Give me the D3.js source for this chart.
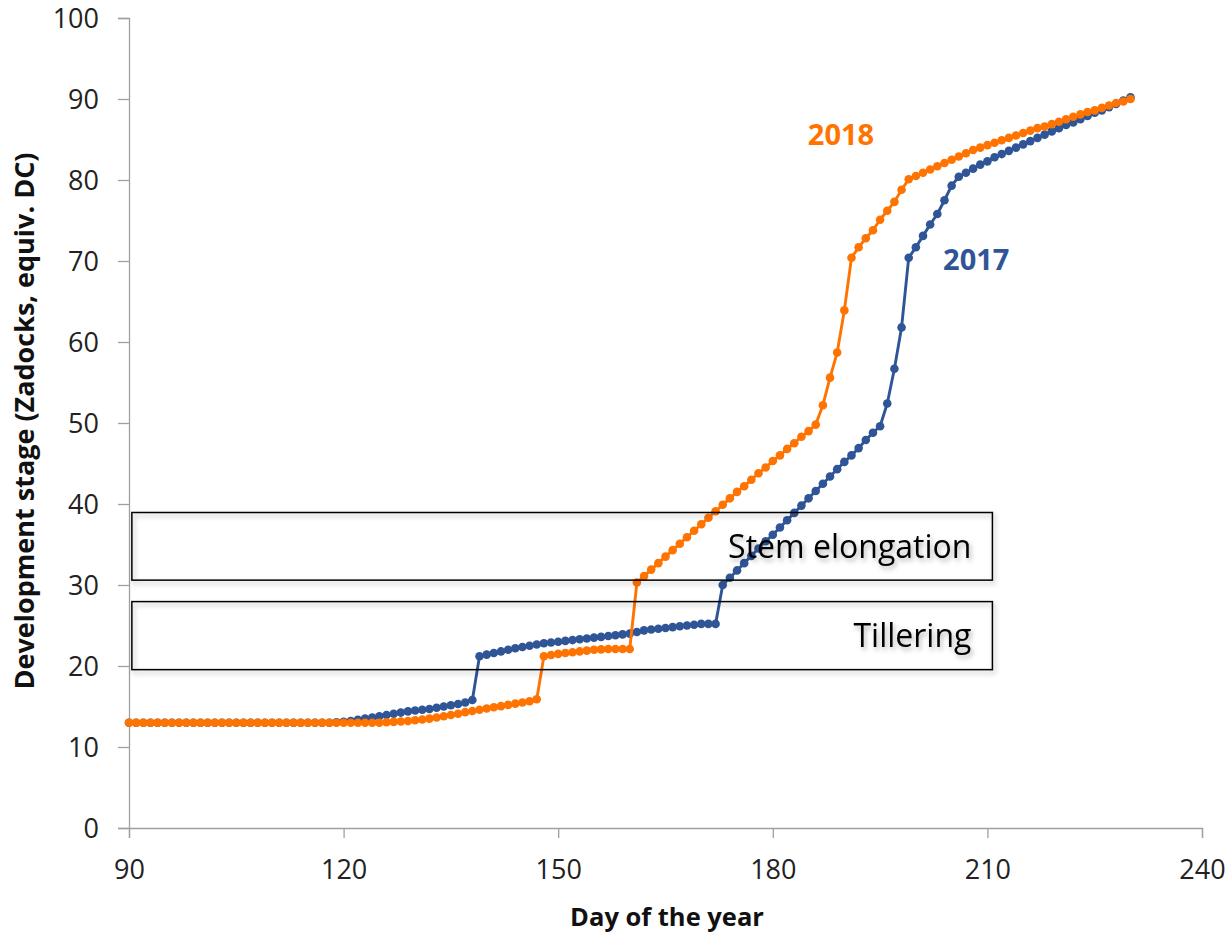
<!DOCTYPE html>
<html>
<head>
<meta charset="utf-8">
<script src="https://cdn.jsdelivr.net/npm/d3@7"></script>
<style>
  html, body { margin: 0; padding: 0; background: #fff; }
  svg { display: block; }
  text { font-family: "Open Sans", "Noto Sans", sans-serif; }
</style>
</head>
<body>
<svg id="chart" width="1229" height="933"></svg>
<script>
// ---------- data ----------
const firstDay = 90, lastDay = 230;
const xTicks = [90, 120, 150, 180, 210, 240];
const yTicks = [0, 10, 20, 30, 40, 50, 60, 70, 80, 90, 100];

const stage2017 = [
  // 90-117
  13.0,13.0,13.0,13.0,13.0,13.0,13.0,13.0,13.0,13.0,13.0,13.0,13.0,13.0,
  13.0,13.0,13.0,13.0,13.0,13.0,13.0,13.0,13.0,13.0,13.0,13.0,13.0,13.0,
  // 118-138
  13.0,13.05,13.1,13.2,13.35,13.5,13.65,13.8,13.95,14.1,14.25,14.4,14.5,14.6,14.7,14.85,15.0,15.15,15.3,15.5,15.8,
  // 139-172
  21.2,21.4,21.6,21.8,22.0,22.2,22.35,22.5,22.65,22.8,22.9,23.0,23.1,23.2,23.3,23.4,23.5,
  23.6,23.7,23.8,23.9,24.0,24.2,24.4,24.5,24.6,24.7,24.8,24.9,25.0,25.1,25.2,25.2,25.2,
  // 173-195
  30.0,30.9,31.8,32.7,33.6,34.5,35.4,36.2,37.1,38.0,38.9,39.8,40.7,41.6,42.5,43.4,44.3,45.2,46.0,46.9,47.9,48.8,49.6,
  // 196-230
  52.4,56.7,61.8,70.4,71.7,73.1,74.5,75.8,77.5,79.3,80.4,80.9,81.4,81.9,82.3,82.8,83.2,83.6,
  84.0,84.4,84.8,85.2,85.6,86.0,86.4,86.8,87.1,87.5,87.9,88.3,88.6,89.0,89.4,89.8,90.2
];

const stage2018 = [
  // 90-124
  13.0,13.0,13.0,13.0,13.0,13.0,13.0,13.0,13.0,13.0,13.0,13.0,13.0,13.0,13.0,13.0,13.0,13.0,
  13.0,13.0,13.0,13.0,13.0,13.0,13.0,13.0,13.0,13.0,13.0,13.0,13.0,13.0,13.0,13.0,13.0,
  // 125-147
  13.0,13.05,13.1,13.15,13.2,13.3,13.4,13.5,13.65,13.8,13.95,14.1,14.3,14.45,14.6,14.75,14.9,15.05,15.2,15.35,15.5,15.65,15.9,
  // 148-160
  21.2,21.35,21.5,21.6,21.7,21.8,21.9,22.0,22.05,22.1,22.1,22.1,22.1,
  // 161-186
  30.3,31.1,31.9,32.7,33.5,34.3,35.1,35.9,36.7,37.5,38.3,39.1,39.9,40.7,41.5,42.2,43.0,43.8,44.5,45.3,46.0,46.8,47.5,48.3,49.0,49.8,
  // 187-230
  52.2,55.6,58.7,63.9,70.4,71.7,72.8,73.8,75.1,76.2,77.3,78.8,80.1,
  80.5,80.9,81.3,81.7,82.1,82.5,82.9,83.3,83.7,84.0,84.3,84.6,84.9,85.2,85.5,85.8,86.1,
  86.4,86.6,86.9,87.2,87.5,87.8,88.1,88.4,88.6,88.9,89.2,89.5,89.7,90.0
];

const seriesNames = ["2017", "2018"];
const seriesColors = ["#2F5597", "#FF7300"];

// phase boxes (in data units): [dayStart, dayEnd], [stageLow, stageHigh]
const phaseNames = ["Stem elongation", "Tillering"];
const phaseDays = [[90.4, 210.7], [90.4, 210.7]];
const phaseStages = [[30.6, 38.95], [19.55, 27.95]];

// ---------- chart ----------
const svg = d3.select("#chart");
const days = d3.range(firstDay, lastDay + 1);
const x = d3.scaleLinear().domain([90, 240]).range([129, 1202]);
const y = d3.scaleLinear().domain([0, 100]).range([828, 18]);

const defs = svg.append("defs");
const f = defs.append("filter").attr("id", "shadow")
  .attr("x", "-5%").attr("y", "-20%").attr("width", "115%").attr("height", "160%");
f.append("feDropShadow").attr("dx", 2).attr("dy", 3).attr("stdDeviation", 2.5)
  .attr("flood-color", "#000").attr("flood-opacity", 0.3);

const axisColor = "#A0A0A0";

// y axis
const yAxis = svg.append("g").attr("transform", `translate(${x(90)},0)`)
  .call(d3.axisLeft(y).tickValues(yTicks).tickSize(11).tickPadding(19));
// x axis
const xAxis = svg.append("g").attr("transform", `translate(0,${y(0)})`)
  .call(d3.axisBottom(x).tickValues(xTicks).tickSize(10).tickPadding(22));
[yAxis, xAxis].forEach(g => {
  g.select(".domain").attr("stroke", axisColor).attr("stroke-width", 1.3);
  g.selectAll(".tick line").attr("stroke", axisColor).attr("stroke-width", 1.3);
  g.selectAll(".tick text").attr("fill", "#222").style("font-size", "27px")
    .style("font-family", "'Open Sans', sans-serif");
});
yAxis.selectAll(".tick text").attr("dy", "0.35em");
xAxis.selectAll(".tick text").attr("dy", "0.71em");

// axis titles
svg.append("text").attr("x", 667).attr("y", 926).attr("text-anchor", "middle")
  .style("font-size", "25.5px").style("font-weight", "bold").attr("fill", "#111")
  .text("Day of the year");
svg.append("text").attr("transform", "translate(34,421) rotate(-90)").attr("text-anchor", "middle")
  .style("font-size", "27px").style("font-weight", "bold").attr("fill", "#111")
  .text("Development stage (Zadocks, equiv. DC)");

// series
const allSeries = [stage2017, stage2018];
const line = d3.line().x((d, i) => x(days[i])).y(d => y(d));
allSeries.forEach((vals, si) => {
  const g = svg.append("g");
  g.append("path").datum(vals).attr("d", line).attr("fill", "none")
    .attr("stroke", seriesColors[si]).attr("stroke-width", 2.9).attr("stroke-linejoin", "round");
  g.selectAll("circle").data(vals).join("circle")
    .attr("cx", (d, i) => x(days[i])).attr("cy", d => y(d)).attr("r", 4.3)
    .attr("fill", seriesColors[si]);
});

// phase boxes
phaseNames.forEach((name, i) => {
  const x0 = x(phaseDays[i][0]), x1 = x(phaseDays[i][1]);
  const yTop = y(phaseStages[i][1]), yBot = y(phaseStages[i][0]);
  svg.append("rect").attr("x", x0).attr("y", yTop).attr("width", x1 - x0).attr("height", yBot - yTop)
    .attr("fill", "none").attr("stroke", "#000").attr("stroke-width", 1.5)
    .attr("filter", "url(#shadow)");
  svg.append("text").attr("x", x1 - 21).attr("y", (yTop + yBot) / 2 + 11.5)
    .attr("text-anchor", "end").style("font-size", "32px").attr("fill", "#000")
    .attr("filter", "url(#shadow)")
    .text(name);
});

// series labels
const labelDays = [203.8, 184.9];
const labelStages = [68.9, 84.3];
seriesNames.forEach((n, i) => {
  svg.append("text").attr("x", x(labelDays[i])).attr("y", y(labelStages[i]))
    .style("font-size", "29px").style("font-weight", "bold").attr("fill", seriesColors[i])
    .text(n);
});
</script>
</body>
</html>
